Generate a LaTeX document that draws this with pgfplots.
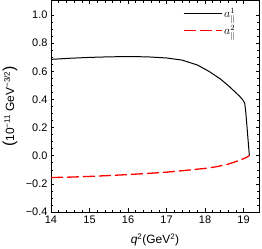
\documentclass[border=0pt]{standalone}
\usepackage{fontspec}
\setmainfont{Liberation Sans}
\usepackage{pgfplots}
\pgfplotsset{compat=1.18}
\begin{document}
\begin{tikzpicture}[x=1bp,y=1bp]
\begin{axis}[
  name=ax,
  scale only axis,
  width=208bp, height=211bp,
  xmin=14, xmax=19.4, ymin=-0.4, ymax=1.1,
  xtick={14,15,16,17,18,19},
  xticklabels={14,15,16,17,18,19},
  ytick={-0.4,-0.2,0,0.2,0.4,0.6,0.8,1.0},
  yticklabels={−0.4,−0.2,0.0,0.2,0.4,0.6,0.8,1.0},
  minor x tick num=4,
  minor y tick num=3,
  tick align=inside,
  major tick length=3.5bp,
  minor tick length=2bp,
  tick style={black, line width=0.6pt},
  axis line style={line width=1pt},
  ticklabel style={font=\fontsize{11}{13}\selectfont},
  xlabel={\textit{q}\textsuperscript{2}(GeV\textsuperscript{2})},
  label style={font=\fontsize{12}{14}\selectfont},
  xlabel style={at={(0.5,0)}, anchor=center, yshift=-28bp},
  legend style={draw=none, fill=none, at={(0.91,0.985)}, anchor=north east, font=\fontsize{12}{14}\selectfont, row sep=2bp},
  legend cell align=left,
  legend image code/.code={\draw[#1] (0bp,0bp) -- (38bp,0bp);},
]
\addplot[red!0!black, line width=1pt] coordinates {
(14.0,0.685) (14.5,0.693) (15.0,0.699) (15.5,0.703) (16.0,0.705) (16.5,0.703)
(17.0,0.695) (17.4,0.680) (17.8,0.645) (18.1,0.600) (18.4,0.545) (18.63,0.492)
(18.8,0.448) (18.9,0.422) (18.98,0.397) (19.03,0.372) (19.06,0.300) (19.09,0.200) (19.12,0.100) (19.15,0.0)
};
\addlegendentry{$a_{\parallel}^{1}$}
\addplot[red, line width=1.3pt, dash pattern=on 12bp off 4bp] coordinates {
(14.0,-0.155) (14.5,-0.152) (15.0,-0.147) (15.5,-0.141) (16.0,-0.134) (16.5,-0.126)
(17.0,-0.117) (17.5,-0.104) (18.0,-0.090) (18.3,-0.078) (18.6,-0.060) (18.9,-0.032) (19.05,-0.015) (19.15,0.0)
};
\addlegendentry{$a_{\parallel}^{2}$}
\end{axis}
\node[rotate=90, anchor=center, font=\fontsize{12}{14}\selectfont] at ([xshift=-41bp]ax.west)
  {{\fontsize{16}{16}\selectfont(}10\textsuperscript{−11} GeV\textsuperscript{−3/2}{\fontsize{16}{16}\selectfont)}};
\pgfresetboundingbox
\path ([shift={(-51bp,-37bp)}]ax.south west) rectangle ([shift={(3bp,1bp)}]ax.north east);
\end{tikzpicture}
\end{document}
